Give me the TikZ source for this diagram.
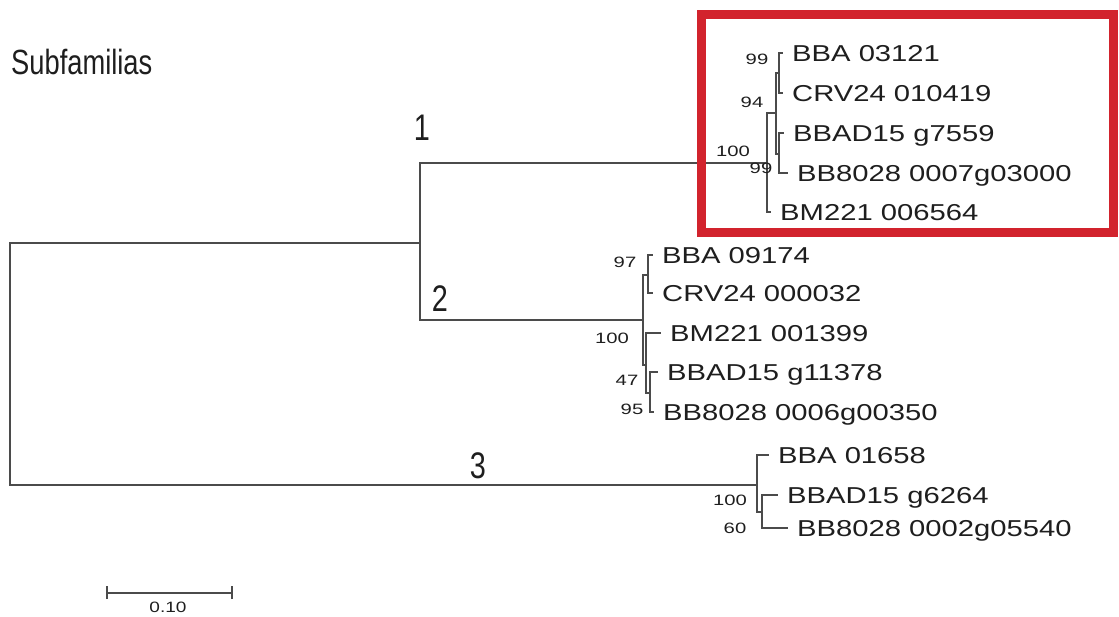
\documentclass[tikz,border=0pt]{standalone}
\usepackage{fontspec}
\setmainfont{Liberation Sans}
\newfontfamily\tipfont[FakeStretch=1.27]{Liberation Sans}
\newfontfamily\bootfont[FakeStretch=1.35]{Liberation Sans}
\newfontfamily\headfont[FakeStretch=0.78]{Liberation Sans}
\definecolor{boxred}{RGB}{210,35,45}
\definecolor{ink}{RGB}{30,30,30}
\definecolor{branchgray}{RGB}{75,75,75}
\tikzset{
  branch/.style={draw=branchgray, line width=2pt},
  tip/.style={anchor=west, inner xsep=9pt, inner ysep=0pt, text height=16.5pt,
    text depth=0pt, text=ink, font=\tipfont\fontsize{23}{25}\selectfont},
  boot/.style={inner sep=0pt, text=ink, font=\bootfont\fontsize{15}{17}\selectfont},
  cladenum/.style={inner sep=0pt, text=ink, font=\headfont\fontsize{37}{40}\selectfont},
}

\begin{document}
\begin{tikzpicture}[x=1pt, y=-1pt]
  \useasboundingbox (0,0) rectangle (1119,617);
  \node[anchor=base west, inner sep=0pt, text=ink, font=\headfont\fontsize{35}{38}\selectfont]
    (title) at (11,75) {Subfamilias};

  % inner nodes of the tree
  \coordinate (root) at (10,364);
  \coordinate (n12) at (420,243);
  \coordinate (c1) at (767,163);
  \coordinate (n94) at (776,113);
  \coordinate (n99a) at (779,73);
  \coordinate (n99b) at (779,154);
  \coordinate (c2) at (643,320);
  \coordinate (n97) at (648,275);
  \coordinate (nlow) at (646,365);
  \coordinate (n47) at (650,393);
  \coordinate (c3) at (757,485);
  \coordinate (n60) at (762,512);

  % leaves
  \node[tip] (bba03121) at (783,53) {BBA 03121};
  \node[tip] (crv010419) at (783,93) {CRV24 010419};
  \node[tip] (bbad7559) at (784,133) {BBAD15 g7559};
  \node[tip] (bb03000) at (788,173) {BB8028 0007g03000};
  \node[tip] (bm006564) at (771,212) {BM221 006564};
  \node[tip] (bba09174) at (653,255) {BBA 09174};
  \node[tip] (crv000032) at (653,293) {CRV24 000032};
  \node[tip] (bm001399) at (661,333) {BM221 001399};
  \node[tip] (bbad11378) at (658,372) {BBAD15 g11378};
  \node[tip] (bb00350) at (654,412) {BB8028 0006g00350};
  \node[tip] (bba01658) at (769,455) {BBA 01658};
  \node[tip] (bbad6264) at (778,495) {BBAD15 g6264};
  \node[tip] (bb05540) at (788,528) {BB8028 0002g05540};

  \draw[branch] (root) |- (n12);
  \draw[branch] (root) |- (c3);
  \draw[branch] (n12) |- (c1);
  \draw[branch] (n12) |- (c2);
  \draw[branch] (c1) |- (n94);
  \draw[branch] (c1) |- (bm006564.west);
  \draw[branch] (n94) |- (n99a);
  \draw[branch] (n94) |- (n99b);
  \draw[branch] (n99a) |- (bba03121.west);
  \draw[branch] (n99a) |- (crv010419.west);
  \draw[branch] (n99b) |- (bbad7559.west);
  \draw[branch] (n99b) |- (bb03000.west);
  \draw[branch] (c2) |- (n97);
  \draw[branch] (c2) |- (nlow);
  \draw[branch] (n97) |- (bba09174.west);
  \draw[branch] (n97) |- (crv000032.west);
  \draw[branch] (nlow) |- (bm001399.west);
  \draw[branch] (nlow) |- (n47);
  \draw[branch] (n47) |- (bbad11378.west);
  \draw[branch] (n47) |- (bb00350.west);
  \draw[branch] (c3) |- (bba01658.west);
  \draw[branch] (c3) |- (n60);
  \draw[branch] (n60) |- (bbad6264.west);
  \draw[branch] (n60) |- (bb05540.west);

  % bootstrap values
  \node[boot] (bs99a) at (757,59) {99};
  \node[boot] (bs94) at (752,102) {94};
  \node[boot] (bs100a) at (733,151) {100};
  \node[boot] (bs99b) at (761,168) {99};
  \node[boot] (bs97) at (625,262) {97};
  \node[boot] (bs100b) at (612,338) {100};
  \node[boot] (bs47) at (627,380) {47};
  \node[boot] (bs95) at (632,409) {95};
  \node[boot] (bs100c) at (730,500) {100};
  \node[boot] (bs60) at (735,528) {60};

  \node[cladenum] (sf1) at (422,128) {1};
  \node[cladenum] (sf2) at (440,299) {2};
  \node[cladenum] (sf3) at (478,466) {3};

  % scale bar
  \coordinate (sbl) at (107,593);
  \coordinate (sbr) at (232,593);
  \draw[branch] (sbl) -- (sbr);
  \draw[branch] ([yshift=-6pt]sbl) -- ([yshift=7pt]sbl);
  \draw[branch] ([yshift=-6pt]sbr) -- ([yshift=7pt]sbr);
  \node[boot, font=\tipfont\fontsize{15}{17}\selectfont] (sblabel) at (168,607) {0.10};

  \draw[boxred, line width=9pt] (701,15) rectangle (1113,233);
\end{tikzpicture}
\end{document}
